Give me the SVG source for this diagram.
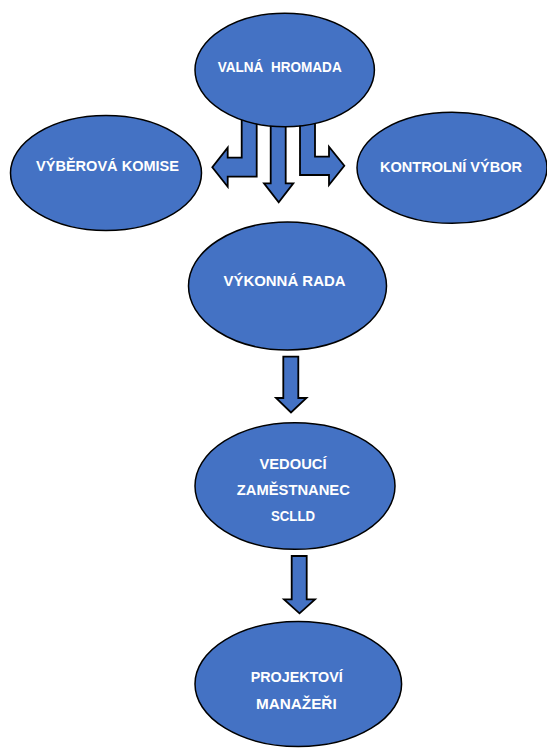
<svg xmlns="http://www.w3.org/2000/svg" width="547" height="749" viewBox="0 0 547 749">
<style>
.node{fill:#4472C4;stroke:#000;stroke-width:1.5}
.arrow{fill:#4472C4;stroke:#000;stroke-width:1.8;stroke-linejoin:miter}
.lbl{font-family:"Liberation Sans",Arial,sans-serif;font-weight:bold;font-size:14.5px;fill:#fff;text-anchor:middle;white-space:pre}
</style>
<rect width="547" height="749" fill="#fff"/>
<g id="connectors">
<path class="arrow" d="M241.7,110 L256.7,110 L256.7,176.7 L227.7,176.7 L227.7,186.7 L212.3,167.2 L227.7,147.7 L227.7,157.7 L241.7,157.7 Z"/>
<path class="arrow" d="M270.7,110 L285.7,110 L285.7,183.3 L293.3,183.3 L278.7,202.3 L264,183.3 L270.7,183.3 Z"/>
<path class="arrow" d="M300,110 L315,110 L315,156.7 L329,156.7 L329,146.7 L344.3,165.8 L329,185 L329,175 L300,175 Z"/>
<path class="arrow" d="M283.3,356.7 L298.3,356.7 L298.3,398 L306.5,398 L291,412.5 L276,398 L283.3,398 Z"/>
<path class="arrow" d="M291.7,556 L306.7,556 L306.7,599.3 L315,599.3 L299.5,613.3 L284,599.3 L291.7,599.3 Z"/>
</g>
<g id="valna-hromada">
<ellipse class="node" cx="284.7" cy="70" rx="89.7" ry="56.7"/>
<text class="lbl" x="279.7" y="71.5" xml:space="preserve" textLength="124" lengthAdjust="spacingAndGlyphs">VALNÁ  HROMADA</text>
</g>
<g id="vyberova-komise">
<ellipse class="node" cx="106" cy="173" rx="95.5" ry="57.5"/>
<text class="lbl" x="107.5" y="171" textLength="143" lengthAdjust="spacingAndGlyphs">VÝBĚROVÁ KOMISE</text>
</g>
<g id="kontrolni-vybor">
<ellipse class="node" cx="452" cy="167.8" rx="95" ry="55.5"/>
<text class="lbl" x="451" y="172" textLength="142" lengthAdjust="spacingAndGlyphs">KONTROLNÍ VÝBOR</text>
</g>
<g id="vykonna-rada">
<ellipse class="node" cx="287.5" cy="286" rx="99" ry="64"/>
<text class="lbl" x="284.5" y="286" textLength="122" lengthAdjust="spacingAndGlyphs">VÝKONNÁ RADA</text>
</g>
<g id="vedouci-zamestnanec">
<ellipse class="node" cx="295" cy="486" rx="100" ry="63.3"/>
<text class="lbl" x="293" y="469" textLength="67" lengthAdjust="spacingAndGlyphs">VEDOUCÍ</text>
<text class="lbl" x="293.3" y="495" textLength="113" lengthAdjust="spacingAndGlyphs">ZAMĚSTNANEC</text>
<text class="lbl" x="293" y="521" textLength="44" lengthAdjust="spacingAndGlyphs">SCLLD</text>
</g>
<g id="projektovi-manazeri">
<ellipse class="node" cx="298.3" cy="684" rx="103.3" ry="62.5"/>
<text class="lbl" x="296.7" y="682" textLength="92" lengthAdjust="spacingAndGlyphs">PROJEKTOVÍ</text>
<text class="lbl" x="296.3" y="709" textLength="80.7" lengthAdjust="spacingAndGlyphs">MANAŽEŘI</text>
</g>
</svg>
